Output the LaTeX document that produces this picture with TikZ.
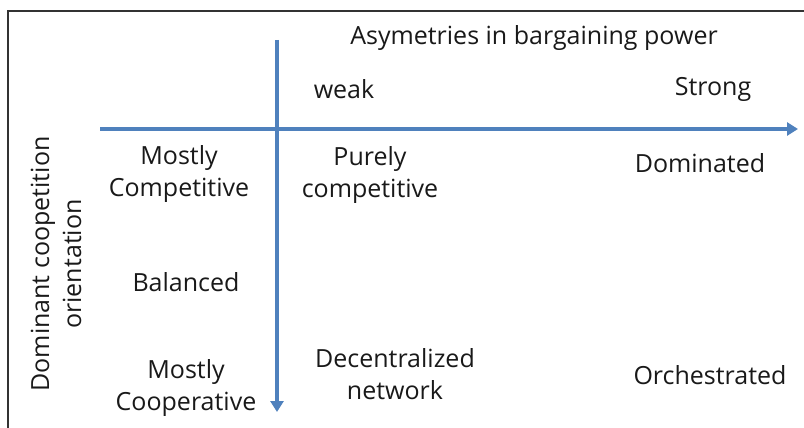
\documentclass[tikz,border=0pt]{standalone}
\usepackage{fontspec}
\setmainfont{Open Sans}
\usetikzlibrary{arrows.meta, positioning}
\definecolor{axisblue}{RGB}{79,129,189}

\begin{document}
\begin{tikzpicture}[
    x=1pt, y=-1pt,
    label/.style={align=center, inner sep=0pt, font=\fontsize{25}{32}\selectfont, text=black!90},
    axis/.style={draw=axisblue, line width=3.2pt, -{Triangle[length=11pt, width=13pt]}}
]
    \useasboundingbox (0,0) rectangle (804,428);
    % frame
    \draw[black!80, line width=1.4pt] (8,432) -- (8,11) -- (808,11);

    % axes
    \coordinate (hstart) at (100,129);
    \coordinate (hend) at (798,129);
    \coordinate (vstart) at (277,40);
    \coordinate (vend) at (277,412);
    \draw[axis] (hstart) -- (hend);
    \draw[axis] (vstart) -- (vend);

    % horizontal axis labels
    \node[label] (title) at (534,38) {Asymetries in bargaining power};
    \node[label] (weak) at (344,89) {weak};
    \node[label] (strong) at (713,89) {Strong};

    % vertical axis labels
    \node[label, rotate=90] (orient) at (56,264) {Dominant coopetition\\orientation};
    \node[label] (comp) at (179,174) {Mostly\\Competitive};
    \node[label] (bal) at (186,282) {Balanced};
    \node[label] (coop) at (186,388) {Mostly\\Cooperative};

    % cells
    \node[label] (pure) at (370,175) {Purely\\competitive};
    \node[label] (dom) at (700,163) {Dominated};
    \node[label] (decen) at (395,374) {Decentralized\\network};
    \node[label] (orch) at (710,375) {Orchestrated};
\end{tikzpicture}
\end{document}
